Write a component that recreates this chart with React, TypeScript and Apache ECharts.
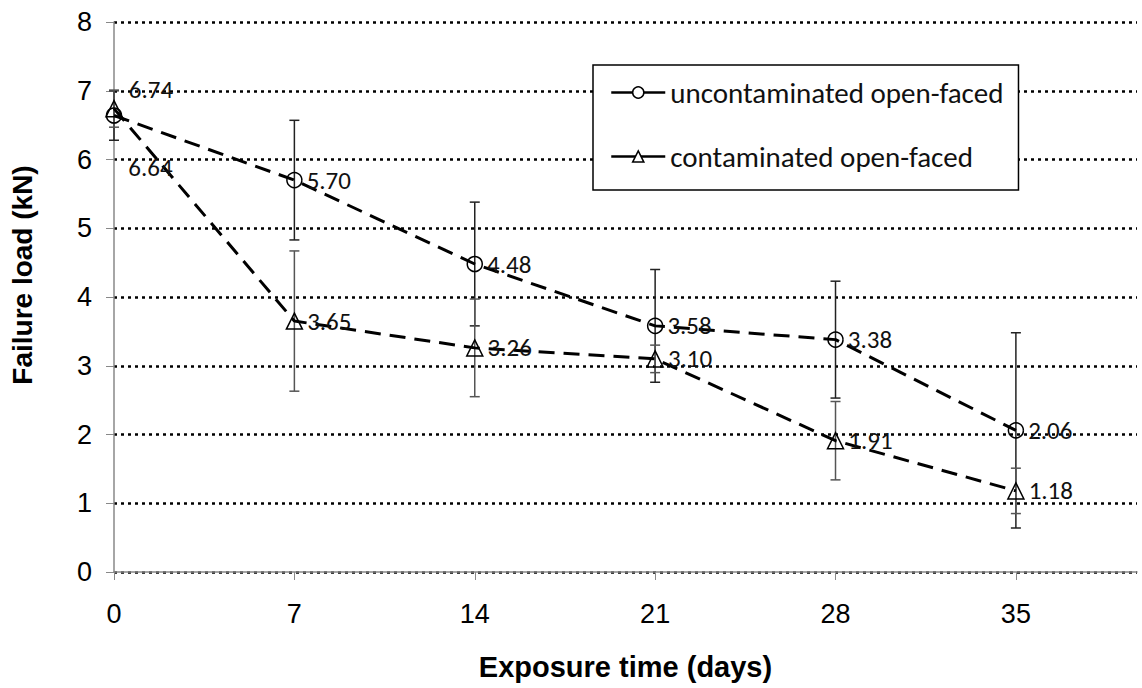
import React, { useEffect, useRef } from "react";
import * as echarts from "echarts";

const days = [0, 7, 14, 21, 28, 35];
const xTickValues = [0, 7, 14, 21, 28, 35];
const uncontaminated = [6.64, 5.7, 4.48, 3.58, 3.38, 2.06];
const contaminated = [6.74, 3.65, 3.26, 3.1, 1.91, 1.18];
const uncontaminatedErr = [0.36, 0.87, 0.9, 0.82, 0.85, 1.42];
const contaminatedErr = [0.27, 1.02, 0.71, 0.2, 0.57, 0.33];
const seriesNames = ["uncontaminated open-faced", "contaminated open-faced"];
const xTitle = "Exposure time (days)";
const yTitle = "Failure load (kN)";

const labelFont = "Carlito, Lato, sans-serif";
const axisFont = "'Liberation Sans', Arial, sans-serif";

function errorBarSeries(name: string, vals: number[], errs: number[], color: string) {
  return {
    type: "custom",
    name: name + " error",
    z: 3,
    silent: true,
    data: days.map((d, i) => [d, vals[i] - errs[i], vals[i] + errs[i]]),
    renderItem: (params: any, api: any) => {
      const x = api.value(0);
      const lo = api.coord([x, api.value(1)]);
      const hi = api.coord([x, api.value(2)]);
      const hw = 5;
      const style = { stroke: color, lineWidth: 1.5 };
      return {
        type: "group",
        children: [
          { type: "line", shape: { x1: lo[0], y1: lo[1], x2: hi[0], y2: hi[1] }, style },
          { type: "line", shape: { x1: lo[0] - hw, y1: lo[1], x2: lo[0] + hw, y2: lo[1] }, style },
          { type: "line", shape: { x1: hi[0] - hw, y1: hi[1], x2: hi[0] + hw, y2: hi[1] }, style },
        ],
      };
    },
  };
}

function lineSeries(name: string, vals: number[], symbol: string, firstOffset: number[]) {
  return {
    type: "line",
    name,
    z: 4,
    symbol,
    symbolSize: symbol === "triangle" ? 16 : 15,
    showAllSymbol: true,
    itemStyle: { color: "rgba(0,0,0,0)", borderColor: "#000", borderWidth: 1.5 },
    lineStyle: { color: "#000", width: 3, type: [16, 9] },
    label: {
      show: true,
      position: "right",
      distance: 4,
      fontFamily: labelFont,
      fontSize: 25,
      color: "#111",
      formatter: (p: any) => p.value[1].toFixed(2),
    },
    data: days.map((d, i) =>
      i === 0
        ? { value: [d, vals[i]], label: { offset: firstOffset } }
        : { value: [d, vals[i]] }
    ),
  };
}

export default function App() {
  const ref = useRef<HTMLDivElement>(null);
  useEffect(() => {
    if (!ref.current) return;
    const chart = echarts.init(ref.current, undefined, { renderer: "svg" });
    chart.setOption({
      animation: false,
      backgroundColor: "#fff",
      grid: { left: 113, right: 5, top: 22, bottom: 116, containLabel: false },
      legend: {
        data: seriesNames,
        orient: "vertical",
        left: 593,
        top: 65,
        padding: [13, 15, 19, 17],
        itemWidth: 54,
        itemHeight: 14,
        itemGap: 35,
        backgroundColor: "#fff",
        borderColor: "#000",
        borderWidth: 1.5,
        borderRadius: 0,
        textStyle: { fontFamily: labelFont, fontSize: 29, color: "#111" },
        itemStyle: { color: "#fff", borderColor: "#000", borderWidth: 1.5 },
        lineStyle: { type: "solid", color: "#000", width: 2.5 },
      },
      xAxis: {
        type: "value",
        min: 0,
        max: 39.7,
        z: 5,
        name: xTitle,
        nameLocation: "middle",
        nameGap: 80,
        nameTextStyle: { fontFamily: axisFont, fontWeight: "bold", fontSize: 29, color: "#000" },
        axisLine: { show: true, lineStyle: { color: "#888", width: 1.5 } },
        axisTick: { show: true, length: 8, lineStyle: { color: "#888", width: 1 }, customValues: xTickValues },
        axisLabel: { customValues: xTickValues, margin: 28, fontFamily: axisFont, fontSize: 27, color: "#000" },
        splitLine: { show: false },
      },
      yAxis: {
        type: "value",
        min: 0,
        max: 8,
        interval: 1,
        name: yTitle,
        nameLocation: "middle",
        nameGap: 78,
        nameTextStyle: {
          fontFamily: axisFont,
          fontWeight: "bold",
          fontSize: 28,
          color: "#000",
          padding: [0, 0, 0, 44],
        },
        axisLine: { show: true, lineStyle: { color: "#888", width: 1.5 } },
        axisTick: { show: true, length: 8, lineStyle: { color: "#888", width: 1 } },
        axisLabel: { margin: 22, fontFamily: axisFont, fontSize: 27, color: "#000" },
        splitLine: { show: true, lineStyle: { color: "#000", width: 2.5, type: [3, 4] } },
      },
      series: [
        errorBarSeries(seriesNames[0], uncontaminated, uncontaminatedErr, "#222"),
        errorBarSeries(seriesNames[1], contaminated, contaminatedErr, "#555"),
        lineSeries(seriesNames[0], uncontaminated, "circle", [2, 52]),
        lineSeries(seriesNames[1], contaminated, "triangle", [2, -19]),
      ],
    });
    return () => chart.dispose();
  }, []);
  return (
    <div
      ref={ref}
      style={{ position: "fixed", left: 0, top: 0, width: 1142, height: 688, background: "#fff" }}
    />
  );
}
